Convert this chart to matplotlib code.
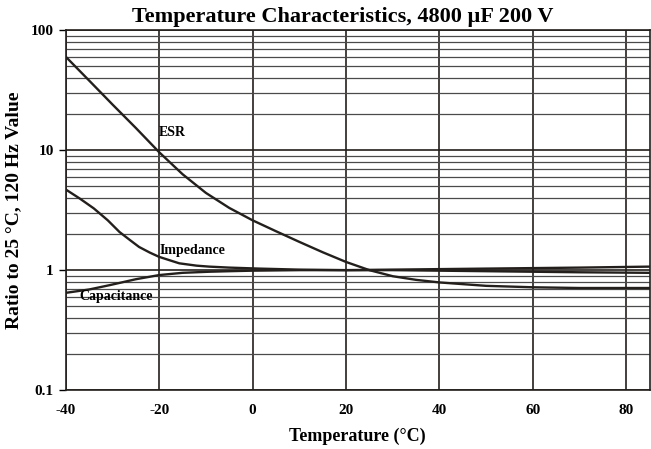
import numpy as np
import matplotlib.pyplot as plt
from matplotlib.ticker import LogLocator, NullFormatter, FixedLocator

plt.rcParams['font.family'] = ['Liberation Serif', 'DejaVu Serif']
plt.rcParams['font.weight'] = 'bold'
plt.rcParams['axes.unicode_minus'] = False

# values
esr_t = [-40, -35, -30, -25, -20, -15, -10, -5, 0, 5, 10, 15, 20, 25, 30, 35, 40, 50, 60, 70, 85]
esr = [60, 38, 24, 15.3, 9.6, 6.3, 4.4, 3.3, 2.6, 2.11, 1.72, 1.41, 1.17, 1.0, 0.89, 0.83, 0.79, 0.74, 0.72, 0.71, 0.71]

imp_t = [-40, -37, -34, -31, -28.5, -26, -24.3, -22, -20, -17.5, -15.7, -12, -9.3, -5, 1.5, 10, 20, 30, 40, 50, 60, 70, 85]
impedance = [4.7, 3.95, 3.27, 2.6, 2.08, 1.75, 1.56, 1.4, 1.29, 1.2, 1.14, 1.09, 1.07, 1.05, 1.03, 1.01, 1.0, 1.0, 0.99, 0.98, 0.97, 0.96, 0.95]

cap_t = [-40, -35, -30.6, -25, -20, -15, -9.3, -5, 0, 10, 20, 30, 40, 50, 60, 70, 85]
capacitance = [0.647, 0.69, 0.75, 0.84, 0.91, 0.95, 0.97, 0.98, 0.99, 1.0, 1.0, 1.01, 1.02, 1.03, 1.04, 1.05, 1.07]

fig = plt.figure(figsize=(6.51, 4.49), dpi=100)
ax = fig.add_axes([0.101, 0.131, 0.897, 0.802])

ax.plot(esr_t, esr, color='#231f1c', lw=1.7)
ax.plot(imp_t, impedance, color='#231f1c', lw=1.7)
ax.plot(cap_t, capacitance, color='#231f1c', lw=1.7)

ax.set_yscale('log')
ax.set_ylim(0.1, 100)
ax.set_xlim(-40, 85)
ax.xaxis.set_major_locator(FixedLocator([-40, -20, 0, 20, 40, 60, 80]))
ax.yaxis.set_major_locator(FixedLocator([0.1, 1, 10, 100]))
ax.set_yticklabels(['0.1', '1', '10', '100'])
ax.yaxis.set_minor_locator(LogLocator(base=10, subs=np.arange(2, 10)))
ax.yaxis.set_minor_formatter(NullFormatter())

ax.grid(True, which='major', axis='both', color='#231f1c', lw=1.2)
ax.grid(True, which='minor', axis='y', color='#4a4a4a', lw=0.9)
ax.tick_params(which='minor', length=0)
ax.tick_params(which='major', axis='y', length=5, width=1, labelsize=11)
ax.tick_params(which='major', axis='x', length=0, labelsize=11, pad=10)
for s in ax.spines.values():
    s.set_color('#231f1c')
    s.set_linewidth(1.2)

ax.text(-20, 14, 'ESR', fontsize=10, fontweight='bold', ha='left', va='center')
ax.text(-20, 1.45, 'Impedance', fontsize=10, fontweight='bold', ha='left', va='center')
ax.text(-37, 0.6, 'Capacitance', fontsize=10, fontweight='bold', ha='left', va='center')

fig.text(0.527, 0.985, 'Temperature Characteristics, 4800 \u00b5F 200 V', fontsize=16,
         fontweight='bold', ha='center', va='top')
ax.set_xlabel('Temperature (\u00b0C)', fontsize=13, fontweight='bold', labelpad=8)
ax.set_ylabel('Ratio to 25 \u00b0C, 120 Hz Value', fontsize=14, fontweight='bold', labelpad=6)

fig.savefig('out.png', dpi=100)
